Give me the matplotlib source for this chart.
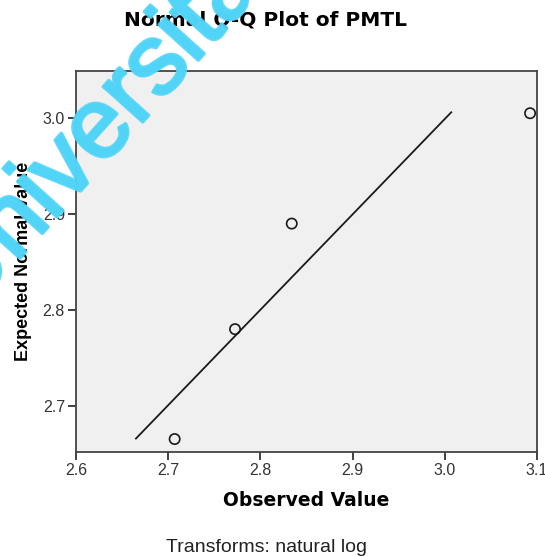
import matplotlib
matplotlib.use("Agg")
import matplotlib.pyplot as plt
import matplotlib.patheffects as pe
import numpy as np

plt.rcParams['font.family'] = ['Liberation Sans', 'DejaVu Sans']

observed = [2.707, 2.7725, 2.834, 3.0925]
expected = [2.6655, 2.780, 2.890, 3.005]
line_x = [2.665, 3.007]
line_y = [2.666, 3.006]
xticks = [2.6, 2.7, 2.8, 2.9, 3.0, 3.1]
yticks = [2.7, 2.8, 2.9, 3.0]

fig = plt.figure(figsize=(5.45, 5.56), dpi=100)
ax = fig.add_axes([76/545, 1-452/556, 461/545, 381/556])
ax.set_facecolor('#f0f0f0')
ax.plot(line_x, line_y, color='#1a1a1a', lw=1.3)
ax.scatter(observed, expected, s=55, facecolors='none', edgecolors='#1a1a1a', linewidths=1.2, zorder=3)
ax.set_xlim(2.6, 3.1)
ax.set_ylim(2.652, 3.049)
ax.set_xticks(xticks)
ax.set_xticklabels([f"{v:.1f}" for v in xticks])
ax.set_yticks(yticks)
ax.set_yticklabels([f"{v:.1f}" for v in yticks])
for s in ax.spines.values():
    s.set_color('#444444')
    s.set_linewidth(1.3)
ax.tick_params(direction='out', length=6, width=1.3, color='#333333', labelsize=11.5, labelcolor='#333333', pad=2)
ax.set_xlabel('Observed Value', fontsize=13.5, fontweight='bold', family='DejaVu Sans', labelpad=9)
ax.set_ylabel('Expected Normal Value', fontsize=13, fontweight='bold', labelpad=8)
fig.text(265/545, 1-20/556, 'Normal Q-Q Plot of PMTL', ha='center', va='center', fontsize=14.5,
         fontweight='bold', family='DejaVu Sans')
fig.text(266/545, 1-548/556, 'Transforms: natural log', ha='center', va='center', fontsize=14, color='#222222')

fig.text(-33/545, 1-317/556, 'Universitas', rotation=48, rotation_mode='anchor', ha='left', va='baseline',
         fontsize=72, color='#50d4f7', alpha=0.9, zorder=10,
         path_effects=[pe.withStroke(linewidth=2.5, foreground='#50d4f7', alpha=0.9)])

fig.savefig('out.png', dpi=100)
